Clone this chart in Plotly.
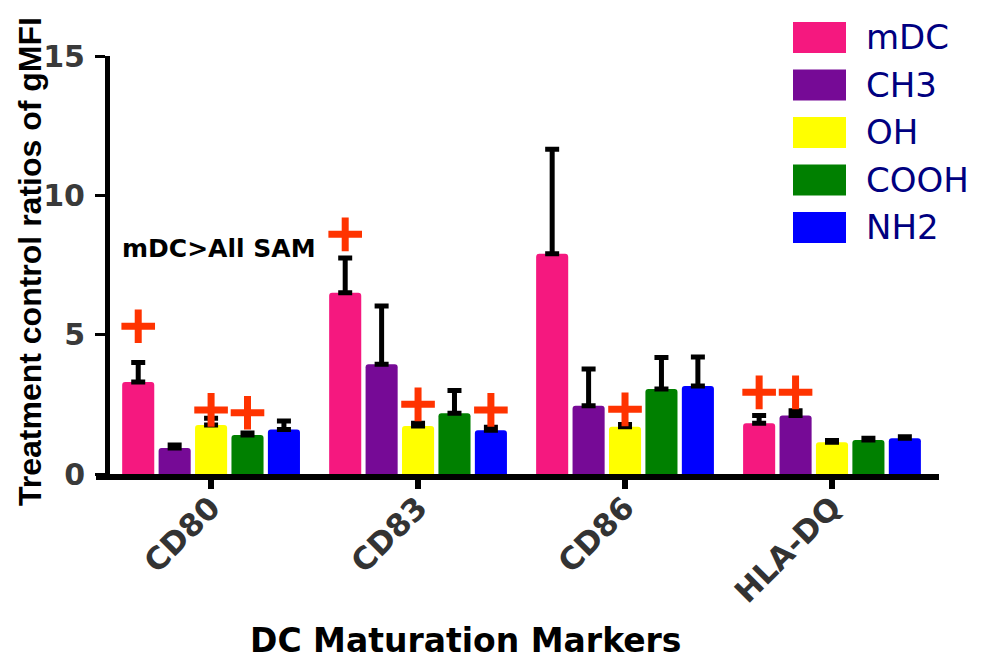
import plotly.graph_objects as go

categories = ["CD80", "CD83", "CD86", "HLA-DQ"]
series_names = ["mDC", "CH3", "OH", "COOH", "NH2"]
series_colors = ["#f5187f", "#760a96", "#ffff00", "#008000", "#0000ff"]

# bar means per series (order of categories)
mdc_vals = [3.30, 6.50, 7.90, 1.82]
ch3_vals = [0.93, 3.94, 2.45, 2.10]
oh_vals = [1.76, 1.72, 1.70, 1.14]
cooh_vals = [1.40, 2.18, 3.05, 1.22]
nh2_vals = [1.60, 1.57, 3.16, 1.28]

# upper error (SD) per series
mdc_err = [0.70, 1.25, 3.75, 0.28]
ch3_err = [0.11, 2.09, 1.32, 0.17]
oh_err = [0.24, 0.10, 0.08, 0.06]
cooh_err = [0.07, 0.82, 1.13, 0.06]
nh2_err = [0.30, 0.11, 1.04, 0.06]

# significance "+" markers (None = no marker)
mdc_plus = [5.3, 8.6, None, 2.93]
ch3_plus = [None, None, None, 2.93]
oh_plus = [2.3, 2.5, 2.32, None]
cooh_plus = [2.2, None, None, None]
nh2_plus = [None, 2.3, None, None]

y_ticks = [0, 5, 10, 15]
y_title = "Treatment control ratios of gMFI"
x_title = "DC Maturation Markers"
note_text = "mDC>All SAM"

values = [mdc_vals, ch3_vals, oh_vals, cooh_vals, nh2_vals]
errors = [mdc_err, ch3_err, oh_err, cooh_err, nh2_err]
pluses = [mdc_plus, ch3_plus, oh_plus, cooh_plus, nh2_plus]

step = 0.176
bar_w = 0.155
n = len(series_names)
cat_pos = list(range(len(categories)))

fig = go.Figure()
for j, name in enumerate(series_names):
    off = (j - (n - 1) / 2) * step
    xs = [c + off for c in cat_pos]
    fig.add_trace(go.Bar(
        x=xs, y=values[j], width=bar_w, name=name,
        marker=dict(color=series_colors[j], line=dict(width=0), cornerradius=3),
        error_y=dict(type="data", array=errors[j], arrayminus=[0] * len(categories),
                     symmetric=False, color="black", thickness=5, width=7),
        showlegend=False,
    ))
for j, name in enumerate(series_names):
    off = (j - (n - 1) / 2) * step
    xs = [c + off for c, p in zip(cat_pos, pluses[j]) if p is not None]
    ys = [p for p in pluses[j] if p is not None]
    if xs:
        fig.add_trace(go.Scatter(
            x=xs, y=ys, mode="markers", showlegend=False,
            marker=dict(symbol="cross-thin", size=24, color="#ff3300",
                        line=dict(width=7, color="#ff3300")),
        ))

# page body adds an 8px offset; compensate so the picture lines up
PAD = 8
W, H = 997 - PAD, 660 - PAD
L, T = 96 - PAD, 56 - PAD
R = W - (939 - PAD)
B = H - (474 - PAD)
pw, ph = W - L - R, H - T - B

def px_x(p):
    return (p - PAD - L) / pw

def px_y(p):
    return (H - B - (p - PAD)) / ph

shapes = []
annotations = []
for j, name in enumerate(series_names):
    top = 22 + j * 47.5
    shapes.append(dict(type="rect", xref="paper", yref="paper",
                       x0=px_x(793), x1=px_x(846), y0=px_y(top + 31), y1=px_y(top),
                       fillcolor=series_colors[j], line=dict(width=0)))
    annotations.append(dict(text=name, xref="paper", yref="paper",
                            x=px_x(864), y=px_y(top + 15), xanchor="left", yanchor="middle",
                            showarrow=False,
                            font=dict(family="DejaVu Sans", size=34, color="#000080")))

annotations.append(dict(text=y_title, xref="paper", yref="paper", x=px_x(30), y=px_y(262),
                        textangle=-90, showarrow=False, xanchor="center", yanchor="middle",
                        font=dict(family="Liberation Sans", size=32, color="black", weight="bold")))
annotations.append(dict(text=x_title, xref="paper", yref="paper", x=px_x(466), y=px_y(640),
                        showarrow=False, xanchor="center", yanchor="middle",
                        font=dict(family="DejaVu Sans", size=33, color="black", weight="bold")))
annotations.append(dict(text=note_text, x=0.04, y=8.1, xref="x", yref="y",
                        showarrow=False, xanchor="center", yanchor="middle",
                        font=dict(family="DejaVu Sans", size=25, color="black", weight="bold")))

fig.update_layout(
    width=W, height=H, margin=dict(l=L, r=R, t=T, b=B, autoexpand=False),
    plot_bgcolor="white", paper_bgcolor="white",
    barmode="overlay", shapes=shapes, annotations=annotations,
    xaxis=dict(range=[-0.556, 3.517], tickvals=cat_pos, ticktext=categories,
               tickangle=-45, showline=True, linewidth=6, linecolor="black",
               ticks="outside", ticklen=9, tickwidth=6, tickcolor="black",
               ticklabelstandoff=-12,
               showgrid=False, zeroline=False, automargin=False,
               tickfont=dict(family="DejaVu Sans", size=31, color="#333333", weight="bold")),
    yaxis=dict(range=[0, 15], tickvals=y_ticks, anchor="free", position=11 / pw,
               showline=True, linewidth=5, linecolor="black",
               ticks="outside", ticklen=10, tickwidth=3, tickcolor="black",
               ticklabelstandoff=4,
               showgrid=False, zeroline=False, automargin=False,
               tickfont=dict(family="DejaVu Sans", size=30, color="#3a3a3a", weight="bold")),
)

fig.write_html("out.html")
